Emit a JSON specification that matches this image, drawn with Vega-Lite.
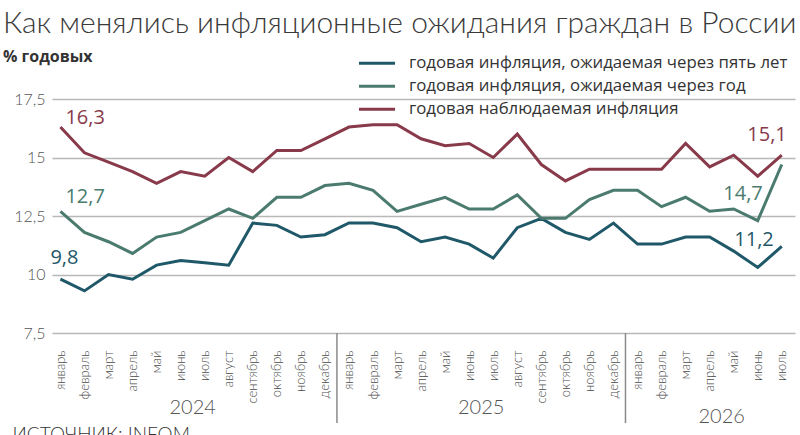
{
  "$schema": "https://vega.github.io/schema/vega-lite/v6.json",
  "width": 743,
  "height": 234,
  "autosize": {"type": "none"},
  "padding": {"left": 52, "top": 99, "right": 5, "bottom": 102},
  "background": "white",
  "title": {
    "text": "Как менялись инфляционные ожидания граждан в России",
    "subtitle": "% годовых",
    "anchor": "start",
    "frame": "group",
    "dx": -49,
    "offset": -13,
    "font": "Lato",
    "fontSize": 30,
    "fontWeight": 300,
    "color": "#3a3a3a",
    "subtitleFont": "Open Sans",
    "subtitleFontSize": 16,
    "subtitleFontWeight": "bold",
    "subtitleColor": "#333333",
    "subtitlePadding": 10
  },
  "config": {
    "view": {"stroke": null},
    "font": "Open Sans",
    "axisX": {
      "labelOverlap": false,
      "labelFlush": false,
      "labelBound": false,
      "labelAngle": -90,
      "labelFontSize": 13,
      "labelFont": "Lato",
      "labelFontWeight": 300,
      "labelColor": "#4a4a4a",
      "labelPadding": 17,
      "tickCount": 31,
      "grid": false,
      "ticks": false,
      "tickSize": 0,
      "domain": false
    },
    "axisY": {
      "labelFontSize": 16,
      "labelFont": "Lato",
      "labelFontWeight": 300,
      "labelColor": "#555555",
      "labelPadding": 7,
      "grid": true,
      "gridColor": "#b8b8b8",
      "gridWidth": 1.5,
      "ticks": false,
      "tickSize": 0,
      "domain": false
    }
  },
  "layer": [
    {
      "data": {"values": [
        {"t": 0, "five": 9.8, "one": 12.7, "obs": 16.3},
        {"t": 1, "five": 9.3, "one": 11.8, "obs": 15.2},
        {"t": 2, "five": 10.0, "one": 11.4, "obs": 14.8},
        {"t": 3, "five": 9.8, "one": 10.9, "obs": 14.4},
        {"t": 4, "five": 10.4, "one": 11.6, "obs": 13.9},
        {"t": 5, "five": 10.6, "one": 11.8, "obs": 14.4},
        {"t": 6, "five": 10.5, "one": 12.3, "obs": 14.2},
        {"t": 7, "five": 10.4, "one": 12.8, "obs": 15.0},
        {"t": 8, "five": 12.2, "one": 12.4, "obs": 14.4},
        {"t": 9, "five": 12.1, "one": 13.3, "obs": 15.3},
        {"t": 10, "five": 11.6, "one": 13.3, "obs": 15.3},
        {"t": 11, "five": 11.7, "one": 13.8, "obs": 15.8},
        {"t": 12, "five": 12.2, "one": 13.9, "obs": 16.3},
        {"t": 13, "five": 12.2, "one": 13.6, "obs": 16.4},
        {"t": 14, "five": 12.0, "one": 12.7, "obs": 16.4},
        {"t": 15, "five": 11.4, "one": 13.0, "obs": 15.8},
        {"t": 16, "five": 11.6, "one": 13.3, "obs": 15.5},
        {"t": 17, "five": 11.3, "one": 12.8, "obs": 15.6},
        {"t": 18, "five": 10.7, "one": 12.8, "obs": 15.0},
        {"t": 19, "five": 12.0, "one": 13.4, "obs": 16.0},
        {"t": 20, "five": 12.4, "one": 12.4, "obs": 14.7},
        {"t": 21, "five": 11.8, "one": 12.4, "obs": 14.0},
        {"t": 22, "five": 11.5, "one": 13.2, "obs": 14.5},
        {"t": 23, "five": 12.2, "one": 13.6, "obs": 14.5},
        {"t": 24, "five": 11.3, "one": 13.6, "obs": 14.5},
        {"t": 25, "five": 11.3, "one": 12.9, "obs": 14.5},
        {"t": 26, "five": 11.6, "one": 13.3, "obs": 15.6},
        {"t": 27, "five": 11.6, "one": 12.7, "obs": 14.6},
        {"t": 28, "five": 11.0, "one": 12.8, "obs": 15.1},
        {"t": 29, "five": 10.3, "one": 12.3, "obs": 14.2},
        {"t": 30, "five": 11.2, "one": 14.7, "obs": 15.1}
      ]},
      "transform": [
        {"fold": ["five", "one", "obs"], "as": ["series", "v"]},
        {"calculate": "replace(format(datum.v, '.1f'), '.', ',')", "as": "lbl"}
      ],
      "layer": [
        {
          "mark": {"type": "line", "strokeWidth": 3, "strokeJoin": "miter"},
          "encoding": {
            "x": {
              "field": "t", "type": "quantitative",
              "scale": {"domain": [-0.35, 30.55], "nice": false, "zero": false},
              "axis": {
                "values": [0,1,2,3,4,5,6,7,8,9,10,11,12,13,14,15,16,17,18,19,20,21,22,23,24,25,26,27,28,29,30],
                "tickCount": 31,
                "labelExpr": "['январь','февраль','март','апрель','май','июнь','июль','август','сентябрь','октябрь','ноябрь','декабрь'][datum.value % 12]",
                "labelOverlap": false,
                "title": "ИСТОЧНИК: INFOM",
                "titleAnchor": "start",
                "titleAlign": "left",
                "titleBaseline": "alphabetic",
                "titleX": -40,
                "titleY": 107,
                "titleFont": "Lato",
                "titleFontSize": 19,
                "titleFontWeight": 300,
                "titleColor": "#333333"
              }
            },
            "y": {
              "field": "v", "type": "quantitative",
              "scale": {"domain": [7.5, 17.5], "nice": false, "zero": false},
              "axis": {
                "values": [7.5, 10, 12.5, 15, 17.5],
                "labelExpr": "replace(format(datum.value, '~g'), '.', ',')",
                "title": null
              }
            },
            "color": {
              "field": "series", "type": "nominal",
              "scale": {"domain": ["five", "one", "obs"], "range": ["#1f5868", "#4b7b6f", "#883a4a"]},
              "legend": {
                "orient": "none",
                "legendX": 305,
                "legendY": -47,
                "title": null,
                "symbolType": "stroke",
                "symbolSize": 1300,
                "symbolStrokeWidth": 3,
                "labelFont": "Open Sans",
                "labelFontSize": 16.8,
                "labelColor": "#333333",
                "labelOffset": 12,
                "labelLimit": 0,
                "clipHeight": 22.5,
                "rowPadding": 0,
                "labelExpr": "datum.value == 'five' ? 'годовая инфляция, ожидаемая через пять лет' : datum.value == 'one' ? 'годовая инфляция, ожидаемая через год' : 'годовая наблюдаемая инфляция'"
              }
            }
          }
        },
        {
          "transform": [{"filter": "datum.t == 0 && datum.series == 'obs'"}],
          "mark": {"type": "text", "align": "left", "baseline": "alphabetic", "dx": 5, "dy": -3, "fontSize": 20, "font": "Open Sans", "color": "#883a4a"},
          "encoding": {"x": {"field": "t", "type": "quantitative"}, "y": {"field": "v", "type": "quantitative"}, "text": {"field": "lbl"}}
        },
        {
          "transform": [{"filter": "datum.t == 0 && datum.series == 'one'"}],
          "mark": {"type": "text", "align": "left", "baseline": "alphabetic", "dx": 5, "dy": -8, "fontSize": 20, "font": "Open Sans", "color": "#4b7b6f"},
          "encoding": {"x": {"field": "t", "type": "quantitative"}, "y": {"field": "v", "type": "quantitative"}, "text": {"field": "lbl"}}
        },
        {
          "transform": [{"filter": "datum.t == 0 && datum.series == 'five'"}],
          "mark": {"type": "text", "align": "left", "baseline": "alphabetic", "dx": -10, "dy": -15, "fontSize": 20, "font": "Open Sans", "color": "#1f5868"},
          "encoding": {"x": {"field": "t", "type": "quantitative"}, "y": {"field": "v", "type": "quantitative"}, "text": {"field": "lbl"}}
        },
        {
          "transform": [{"filter": "datum.t == 30 && datum.series == 'obs'"}],
          "mark": {"type": "text", "align": "right", "baseline": "alphabetic", "dx": 5, "dy": -14, "fontSize": 20, "font": "Open Sans", "color": "#883a4a"},
          "encoding": {"x": {"field": "t", "type": "quantitative"}, "y": {"field": "v", "type": "quantitative"}, "text": {"field": "lbl"}}
        },
        {
          "transform": [{"filter": "datum.t == 30 && datum.series == 'one'"}],
          "mark": {"type": "text", "align": "right", "baseline": "alphabetic", "dx": -19, "dy": 35, "fontSize": 20, "font": "Open Sans", "color": "#4b7b6f"},
          "encoding": {"x": {"field": "t", "type": "quantitative"}, "y": {"field": "v", "type": "quantitative"}, "text": {"field": "lbl"}}
        },
        {
          "transform": [{"filter": "datum.t == 30 && datum.series == 'five'"}],
          "mark": {"type": "text", "align": "right", "baseline": "alphabetic", "dx": -8, "dy": 0, "fontSize": 20, "font": "Open Sans", "color": "#1f5868"},
          "encoding": {"x": {"field": "t", "type": "quantitative"}, "y": {"field": "v", "type": "quantitative"}, "text": {"field": "lbl"}}
        }
      ]
    },
    {
      "data": {"values": [{"t": 11.5}, {"t": 23.5}]},
      "mark": {"type": "rule", "color": "#8a8a8a", "strokeWidth": 1.5},
      "encoding": {
        "x": {"field": "t", "type": "quantitative"},
        "y": {"datum": 7.5},
        "y2": {"datum": 3.65}
      }
    },
    {
      "data": {"values": [{"t": 5.5, "year": "2024"}, {"t": 17.5, "year": "2025"}]},
      "mark": {"type": "text", "fontSize": 20, "font": "Lato", "fontWeight": 300, "color": "#555555", "baseline": "middle", "align": "center"},
      "encoding": {
        "x": {"field": "t", "type": "quantitative"},
        "y": {"datum": 4.3},
        "text": {"field": "year"}
      }
    },
    {
      "data": {"values": [{"t": 27.5, "year": "2026"}]},
      "mark": {"type": "text", "fontSize": 20, "font": "Lato", "fontWeight": 300, "color": "#555555", "baseline": "middle", "align": "center"},
      "encoding": {
        "x": {"field": "t", "type": "quantitative"},
        "y": {"datum": 3.9},
        "text": {"field": "year"}
      }
    }
  ]
}
